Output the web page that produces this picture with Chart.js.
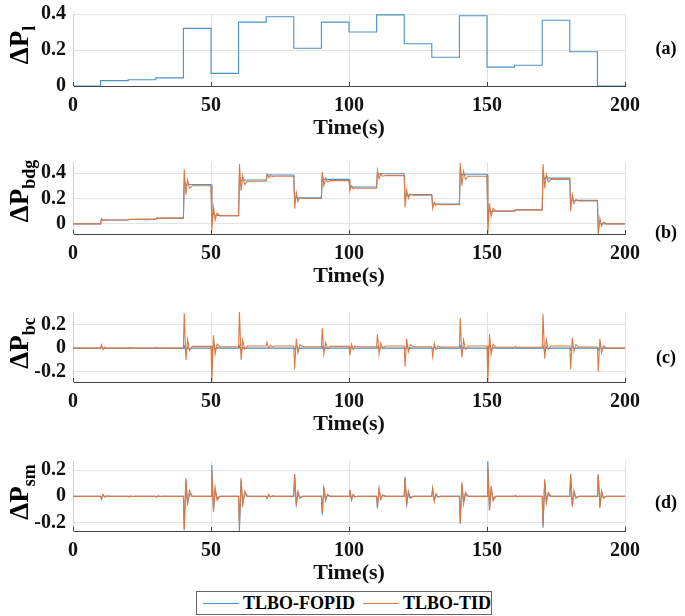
<!DOCTYPE html>
<html>
<head>
<meta charset="utf-8">
<script src="https://cdn.jsdelivr.net/npm/chart.js@4.4.0/dist/chart.umd.min.js"></script>
<style>
body { margin: 0; background: #fff; }
#page { position: relative; width: 685px; height: 616px; overflow: hidden; background: #fff;
        font-family: "Liberation Serif", "Times New Roman", serif; font-weight: bold; color: #000; }
.panel { position: absolute; left: 0; }
.ylab { position: absolute; transform: translate(-50%, -50%) rotate(-90deg); white-space: nowrap; font-size: 27px; }
.ylab sub { font-size: 18px; }
.tag { position: absolute; transform: translate(-50%, -50%); font-size: 18px; }
#legend { position: absolute; left: 196px; top: 591px; width: 294px; height: 22px; border: 1px solid #666;
          display: flex; align-items: center; font-size: 18px; background: #fff; }
#legend .sw { display: inline-block; width: 36px; height: 0; margin: 0 4px 0 6px; }
</style>
</head>
<body>
<div id="page">
  <div class="panel" id="pa"><canvas id="ca"></canvas></div>
  <div class="panel" id="pb"><canvas id="cb"></canvas></div>
  <div class="panel" id="pc"><canvas id="cc"></canvas></div>
  <div class="panel" id="pd"><canvas id="cd"></canvas></div>

  <div class="ylab" style="left:22px; top:45px;">ΔP<sub>l</sub></div>
  <div class="ylab" style="left:22px; top:191px;">ΔP<sub>bdg</sub></div>
  <div class="ylab" style="left:22px; top:343px;">ΔP<sub>bc</sub></div>
  <div class="ylab" style="left:22px; top:492px;">ΔP<sub>sm</sub></div>

  <div class="tag" style="left:666px; top:48px;">(a)</div>
  <div class="tag" style="left:666px; top:232px;">(b)</div>
  <div class="tag" style="left:666px; top:357px;">(c)</div>
  <div class="tag" style="left:666px; top:502px;">(d)</div>

  <div id="legend">
    <span class="sw" style="border-top:1px solid #4b93c3"></span>TLBO-FOPID
    <span class="sw" style="border-top:1px solid #dd7a44; margin-left:8px"></span>TLBO-TID
  </div>
</div>

<script>
// (a) load disturbance, held constant over each 10 s interval
const stepTimes = [0, 10, 20, 30, 40, 50, 60, 70, 80, 90, 100, 110, 120, 130, 140, 150, 160, 170, 180, 190, 200];
const loadStep = [0, 0.03, 0.035, 0.045, 0.32, 0.07, 0.355, 0.385, 0.21, 0.355, 0.30, 0.395, 0.235, 0.16, 0.39, 0.105, 0.115, 0.365, 0.19, 0, 0];

// sample times used by (b), (c), (d)
const time = [
  0,
  10, 10.3, 10.9, 11.5, 12.2, 13.2,
  20, 20.3, 20.9, 21.5, 22.2, 23.2,
  30, 30.3, 30.9, 31.5, 32.2, 33.2,
  40, 40.3, 40.9, 41.5, 42.2, 43.2,
  50, 50.3, 50.9, 51.5, 52.2, 53.2,
  60, 60.3, 60.9, 61.5, 62.2, 63.2,
  70, 70.3, 70.9, 71.5, 72.2, 73.2,
  80, 80.3, 80.9, 81.5, 82.2, 83.2,
  90, 90.3, 90.9, 91.5, 92.2, 93.2,
  100, 100.3, 100.9, 101.5, 102.2, 103.2,
  110, 110.3, 110.9, 111.5, 112.2, 113.2,
  120, 120.3, 120.9, 121.5, 122.2, 123.2,
  130, 130.3, 130.9, 131.5, 132.2, 133.2,
  140, 140.3, 140.9, 141.5, 142.2, 143.2,
  150, 150.3, 150.9, 151.5, 152.2, 153.2,
  160, 160.3, 160.9, 161.5, 162.2, 163.2,
  170, 170.3, 170.9, 171.5, 172.2, 173.2,
  180, 180.3, 180.9, 181.5, 182.2, 183.2,
  190, 190.3, 190.9, 191.5, 192.2, 193.2,
  200
];

// (b) ΔP_bdg
const bdgFOPID = [
  0,
  0, 0.035, 0.028, 0.031, 0.03, 0.03,
  0.03, 0.036, 0.034, 0.035, 0.035, 0.035,
  0.035, 0.046, 0.044, 0.045, 0.045, 0.045,
  0.045, 0.34, 0.30, 0.32, 0.308, 0.31,
  0.31, 0.04, 0.09, 0.06, 0.068, 0.065,
  0.065, 0.375, 0.335, 0.35, 0.343, 0.345,
  0.345, 0.39, 0.383, 0.386, 0.385, 0.385,
  0.385, 0.18, 0.215, 0.20, 0.207, 0.205,
  0.205, 0.37, 0.345, 0.355, 0.35, 0.35,
  0.35, 0.285, 0.295, 0.29, 0.29, 0.29,
  0.29, 0.405, 0.39, 0.397, 0.395, 0.395,
  0.395, 0.21, 0.235, 0.225, 0.23, 0.23,
  0.23, 0.15, 0.158, 0.154, 0.155, 0.155,
  0.155, 0.41, 0.38, 0.395, 0.39, 0.39,
  0.39, 0.07, 0.11, 0.095, 0.10, 0.10,
  0.10, 0.112, 0.11, 0.11, 0.11, 0.11,
  0.11, 0.385, 0.35, 0.365, 0.36, 0.36,
  0.36, 0.165, 0.19, 0.18, 0.185, 0.185,
  0.185, -0.02, 0.01, -0.005, 0.002, 0,
  0
];
const bdgTID = [
  0,
  0, 0.04, 0.025, 0.032, 0.028, 0.03,
  0.03, 0.036, 0.033, 0.035, 0.034, 0.035,
  0.035, 0.046, 0.042, 0.045, 0.044, 0.045,
  0.045, 0.43, 0.23, 0.345, 0.28, 0.30,
  0.30, -0.05, 0.13, 0.03, 0.085, 0.065,
  0.065, 0.47, 0.26, 0.38, 0.31, 0.335,
  0.335, 0.39, 0.365, 0.378, 0.373, 0.375,
  0.375, 0.12, 0.245, 0.175, 0.21, 0.20,
  0.20, 0.41, 0.30, 0.36, 0.33, 0.34,
  0.34, 0.26, 0.30, 0.275, 0.285, 0.28,
  0.28, 0.42, 0.355, 0.39, 0.375, 0.38,
  0.38, 0.13, 0.265, 0.20, 0.235, 0.225,
  0.225, 0.12, 0.17, 0.145, 0.155, 0.15,
  0.15, 0.48, 0.30, 0.415, 0.35, 0.375,
  0.375, -0.075, 0.16, 0.06, 0.12, 0.10,
  0.10, 0.112, 0.108, 0.11, 0.11, 0.11,
  0.11, 0.47, 0.28, 0.39, 0.33, 0.35,
  0.35, 0.10, 0.23, 0.16, 0.19, 0.18,
  0.18, -0.09, 0.045, -0.02, 0.012, 0,
  0
];

// (c) ΔP_bc
const bcFOPID = [
  0,
  0, 0.005, -0.002, 0.001, 0, 0,
  0, 0, 0, 0, 0, 0,
  0, 0, 0, 0, 0, 0,
  0, 0.02, -0.03, 0.01, -0.005, 0,
  0, -0.02, 0.03, -0.01, 0.004, 0,
  0, 0.02, -0.03, 0.01, -0.004, 0,
  0, 0.003, -0.002, 0.001, 0, 0,
  0, -0.015, 0.02, -0.006, 0.002, 0,
  0, 0.015, -0.02, 0.006, -0.002, 0,
  0, -0.006, 0.008, -0.003, 0, 0,
  0, 0.01, -0.015, 0.005, 0, 0,
  0, -0.015, 0.02, -0.006, 0.002, 0,
  0, -0.008, 0.01, -0.003, 0, 0,
  0, 0.02, -0.03, 0.01, -0.004, 0,
  0, -0.025, 0.03, -0.01, 0.004, 0,
  0, 0, 0, 0, 0, 0,
  0, 0.02, -0.03, 0.01, -0.004, 0,
  0, -0.015, 0.02, -0.006, 0.002, 0,
  0, -0.015, 0.02, -0.006, 0.002, 0,
  0
];
const bcTID = [
  0,
  0, 0.03, -0.012, 0.01, -0.004, 0,
  0, 0.006, -0.003, 0.002, 0, 0,
  0, 0.01, -0.004, 0.003, 0, 0,
  0, 0.30, -0.10, 0.075, -0.02, 0.015,
  0.015, -0.29, 0.11, -0.05, 0.035, 0.012,
  0.012, 0.32, -0.10, 0.07, -0.01, 0.018,
  0.018, 0.05, 0, 0.025, 0.01, 0.018,
  0.018, -0.18, 0.08, -0.04, 0.03, 0.012,
  0.012, 0.17, -0.05, 0.05, 0, 0.015,
  0.015, -0.06, 0.035, -0.01, 0.02, 0.012,
  0.012, 0.12, -0.05, 0.045, 0, 0.018,
  0.018, -0.16, 0.08, -0.03, 0.03, 0.012,
  0.012, -0.07, 0.04, -0.01, 0.02, 0.01,
  0.01, 0.26, -0.08, 0.07, -0.01, 0.018,
  0.018, -0.30, 0.12, -0.05, 0.035, 0.008,
  0.008, 0.015, 0.004, 0.01, 0.008, 0.008,
  0.008, 0.29, -0.09, 0.07, -0.01, 0.018,
  0.018, -0.18, 0.09, -0.03, 0.03, 0.01,
  0.01, -0.20, 0.08, -0.04, 0.02, 0,
  0
];

// (d) ΔP_sm
const smFOPID = [
  0,
  0, -0.02, 0.012, -0.004, 0.002, 0,
  0, -0.004, 0.002, -0.001, 0, 0,
  0, -0.006, 0.003, -0.001, 0, 0,
  0, -0.26, 0.12, -0.05, 0.02, 0,
  0, 0.24, -0.10, 0.045, -0.015, 0,
  0, -0.27, 0.12, -0.05, 0.02, 0,
  0, -0.016, 0.012, -0.004, 0.002, 0,
  0, 0.17, -0.06, 0.025, -0.01, 0,
  0, -0.14, 0.06, -0.025, 0.01, 0,
  0, 0.05, -0.025, 0.01, -0.004, 0,
  0, -0.09, 0.05, -0.02, 0.008, 0,
  0, 0.15, -0.06, 0.025, -0.01, 0,
  0, 0.06, -0.03, 0.012, -0.005, 0,
  0, -0.21, 0.09, -0.04, 0.015, 0,
  0, 0.27, -0.10, 0.045, -0.02, 0,
  0, 0.006, -0.003, 0.001, 0, 0,
  0, -0.24, 0.11, -0.04, 0.015, 0,
  0, 0.17, -0.07, 0.03, -0.01, 0,
  0, 0.17, -0.075, 0.03, -0.01, 0,
  0
];
const smTID = [
  0,
  0, -0.02, 0.014, -0.006, 0.003, 0,
  0, -0.004, 0.003, -0.001, 0, 0,
  0, -0.006, 0.004, -0.002, 0, 0,
  0, -0.245, 0.14, -0.07, 0.045, 0,
  0, 0.20, -0.12, 0.07, -0.03, 0,
  0, -0.23, 0.14, -0.08, 0.04, 0,
  0, -0.015, 0.015, -0.006, 0.003, 0,
  0, 0.16, -0.07, 0.04, -0.015, 0,
  0, -0.12, 0.07, -0.035, 0.015, 0,
  0, 0.05, -0.03, 0.015, -0.005, 0,
  0, -0.08, 0.06, -0.025, 0.01, 0,
  0, 0.14, -0.07, 0.04, -0.015, 0,
  0, 0.06, -0.04, 0.02, -0.008, 0,
  0, -0.20, 0.11, -0.06, 0.03, 0,
  0, 0.22, -0.11, 0.08, -0.035, 0,
  0, 0.006, -0.004, 0.002, 0, 0,
  0, -0.22, 0.13, -0.05, 0.03, 0,
  0, 0.16, -0.08, 0.045, -0.015, 0,
  0, 0.16, -0.09, 0.045, -0.015, 0,
  0
];

const xTicks = [0, 50, 100, 150, 200];
const ticksA = [0, 0.2, 0.4];
const ticksB = [0, 0.2, 0.4];
const ticksC = [-0.2, 0, 0.2];
const ticksD = [-0.2, 0, 0.2];

const BLUE = '#4b93c3';
const ORANGE = '#dd7a44';
const FONT = "'Liberation Serif', 'Times New Roman', serif";

function pts(xs, ys) {
  return xs.map((x, i) => ({ x: x, y: ys[i] }));
}

// small inward tick marks on the bottom axis, like the original
const bottomTicks = {
  id: 'bottomTicks',
  afterDraw(chart) {
    const ctx = chart.ctx;
    const xs = chart.scales.x;
    const bottom = chart.chartArea.bottom;
    ctx.save();
    ctx.strokeStyle = '#444';
    ctx.lineWidth = 1;
    xTicks.forEach(v => {
      const px = Math.round(xs.getPixelForValue(v)) + 0.5;
      ctx.beginPath();
      ctx.moveTo(px, bottom);
      ctx.lineTo(px, bottom - 4);
      ctx.stroke();
    });
    ctx.restore();
  }
};

function makeChart(panelId, canvasId, datasets, yMin, yMax, yTicks, plotTop, plotBottom) {
  const padTop = 12;
  const xAxisH = 56;
  const panel = document.getElementById(panelId);
  const canvas = document.getElementById(canvasId);
  panel.style.top = (plotTop - padTop) + 'px';
  canvas.width = 685;
  canvas.height = (plotBottom - plotTop) + padTop + xAxisH + 2;

  return new Chart(canvas, {
    type: 'line',
    data: { datasets: datasets },
    options: {
      responsive: false,
      animation: false,
      events: [],
      layout: { padding: { top: padTop, left: 5, right: 60, bottom: 2 } },
      plugins: { legend: { display: false }, tooltip: { enabled: false } },
      elements: { point: { radius: 0 }, line: { borderWidth: 1.1, tension: 0 } },
      scales: {
        x: {
          type: 'linear',
          min: 0,
          max: 200,
          afterFit: s => { s.height = xAxisH; },
          afterBuildTicks: s => { s.ticks = xTicks.map(v => ({ value: v })); },
          grid: { color: '#e3e3e3', drawTicks: false },
          border: { color: '#444', width: 1 },
          ticks: { padding: 8, color: '#111', font: { family: FONT, size: 20, weight: 'bold' } },
          title: { display: true, text: 'Time(s)', color: '#111', padding: 0,
                   font: { family: FONT, size: 22, weight: 'bold' } }
        },
        y: {
          min: yMin,
          max: yMax,
          afterFit: s => { s.width = 68; },
          afterBuildTicks: s => { s.ticks = yTicks.map(v => ({ value: v })); },
          grid: { color: '#e3e3e3', drawTicks: false },
          border: { color: '#d0d0d0', width: 1 },
          ticks: {
            padding: 7,
            color: '#111',
            font: { family: FONT, size: 20, weight: 'bold' },
            callback: v => (v === 0 ? '0' : v.toFixed(1))
          }
        }
      }
    },
    plugins: [bottomTicks]
  });
}

function series(label, xs, ys, color, order) {
  return { label: label, data: pts(xs, ys), borderColor: color, backgroundColor: color, order: order };
}

makeChart('pa', 'ca', [
  { label: 'ΔPl', data: pts(stepTimes, loadStep), borderColor: BLUE, stepped: 'before' }
], 0, 0.4, ticksA, 7, 86);

makeChart('pb', 'cb', [
  series('TLBO-FOPID', time, bdgFOPID, BLUE, 1),
  series('TLBO-TID', time, bdgTID, ORANGE, 0)
], -0.08, 0.487, ticksB, 155, 234);

makeChart('pc', 'cc', [
  series('TLBO-FOPID', time, bcFOPID, BLUE, 1),
  series('TLBO-TID', time, bcTID, ORANGE, 0)
], -0.29, 0.31, ticksC, 305, 382);

makeChart('pd', 'cd', [
  series('TLBO-FOPID', time, smFOPID, BLUE, 1),
  series('TLBO-TID', time, smTID, ORANGE, 0)
], -0.265, 0.27, ticksD, 454, 531);
</script>
</body>
</html>
